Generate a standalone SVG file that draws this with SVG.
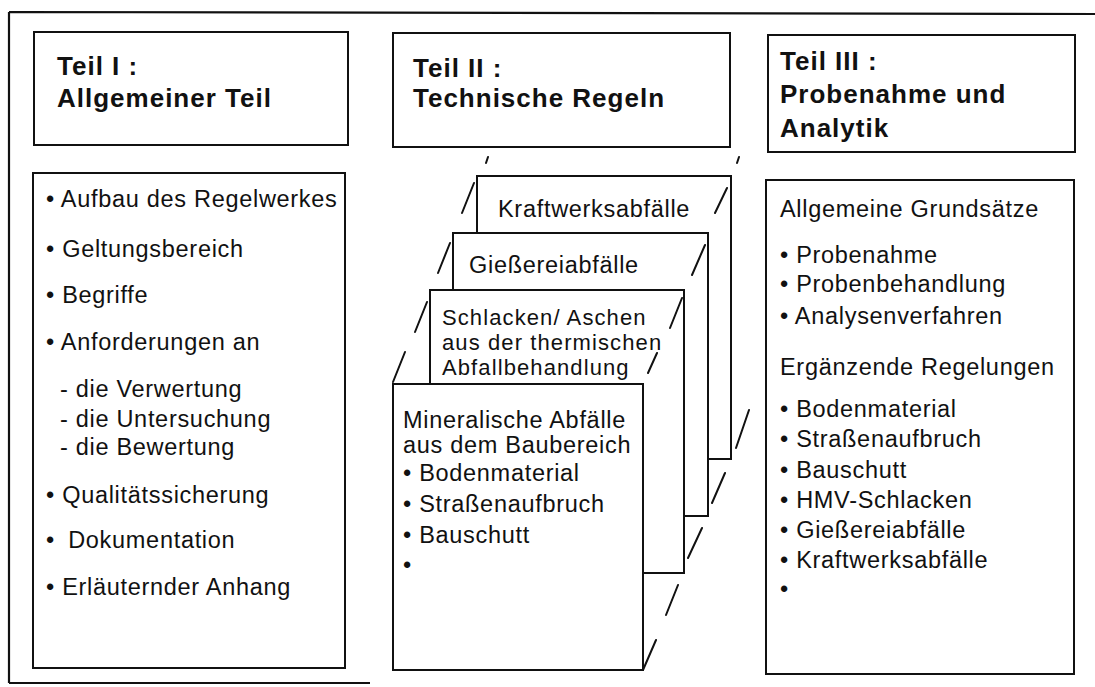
<svg xmlns="http://www.w3.org/2000/svg" width="1095" height="687" viewBox="0 0 1095 687">
<style>
.box{fill:#fff;stroke:#111;stroke-width:2}
.frame{fill:none;stroke:#111;stroke-width:2.2}
.sl{stroke:#111;stroke-width:2;fill:none;stroke-linecap:round}
.t{font-family:"Liberation Sans",Arial,sans-serif;font-size:26px;font-weight:bold;letter-spacing:1px;fill:#111}
.b{font-family:"Liberation Sans",Arial,sans-serif;font-size:23.5px;letter-spacing:0.7px;fill:#111}
.s{font-family:"Liberation Sans",Arial,sans-serif;font-size:22px;letter-spacing:1.1px;fill:#111}
</style>
<rect width="1095" height="687" fill="#fff"/>
<g id="frame">
<path class="frame" d="M9,12 L1095,14 M9,12 L9,683 M9,683 L370,683"/>
</g>
<g id="teil1">
<rect class="box" x="34" y="32" width="314" height="113"/>
<text class="t" x="57" y="75">Teil I :</text>
<text class="t" x="57" y="107">Allgemeiner Teil</text>
</g>
<g id="teil2">
<rect class="box" x="393" y="33" width="337" height="114"/>
<text class="t" x="413" y="77">Teil II :</text>
<text class="t" x="413" y="107">Technische Regeln</text>
</g>
<g id="teil3">
<rect class="box" x="768" y="35" width="307" height="117"/>
<text class="t" x="780" y="70">Teil III :</text>
<text class="t" x="780" y="103">Probenahme und</text>
<text class="t" x="780" y="137">Analytik</text>
</g>
<g id="liste1">
<rect class="box" x="33" y="173" width="312" height="495"/>
<text class="b" x="46" y="207">• Aufbau des Regelwerkes</text>
<text class="b" x="46" y="257">• Geltungsbereich</text>
<text class="b" x="46" y="303">• Begriffe</text>
<text class="b" x="46" y="350">• Anforderungen an</text>
<text class="b" x="60" y="397">- die Verwertung</text>
<text class="b" x="60" y="427">- die Untersuchung</text>
<text class="b" x="60" y="455">- die Bewertung</text>
<text class="b" x="46" y="503">• Qualitätssicherung</text>
<text class="b" x="46" y="548">• <tspan dx="6">Dokumentation</tspan></text>
<text class="b" x="46" y="595">• Erläuternder Anhang</text>
</g>
<g id="karte-kraftwerk">
<rect class="box" x="477" y="176" width="254" height="283"/>
<text class="b" x="498" y="217">Kraftwerksabfälle</text>
</g>
<g id="karte-giesserei">
<rect class="box" x="453" y="233" width="255" height="283"/>
<text class="b" x="469" y="273">Gießereiabfälle</text>
</g>
<g id="karte-schlacken">
<rect class="box" x="430" y="290" width="254" height="283"/>
<text class="s" x="442" y="325">Schlacken/ Aschen</text>
<text class="s" x="442" y="350">aus der thermischen</text>
<text class="s" x="442" y="375">Abfallbehandlung</text>
</g>
<g id="karte-mineralisch">
<rect class="box" x="393" y="384" width="250" height="286"/>
<text class="b" x="403" y="428">Mineralische Abfälle</text>
<text class="b" x="403" y="453">aus dem Baubereich</text>
<text class="b" x="403" y="481">• Bodenmaterial</text>
<text class="b" x="403" y="512">• Straßenaufbruch</text>
<text class="b" x="403" y="543">• Bauschutt</text>
<text class="b" x="403" y="573">•</text>
</g>
<g id="liste3">
<rect class="box" x="766" y="180" width="308" height="494"/>
<text class="b" x="780" y="217">Allgemeine Grundsätze</text>
<text class="b" x="780" y="263">• Probenahme</text>
<text class="b" x="780" y="292">• Probenbehandlung</text>
<text class="b" x="780" y="324">• Analysenverfahren</text>
<text class="b" x="780" y="375">Ergänzende Regelungen</text>
<text class="b" x="780" y="417">• Bodenmaterial</text>
<text class="b" x="780" y="447">• Straßenaufbruch</text>
<text class="b" x="780" y="478">• Bauschutt</text>
<text class="b" x="780" y="508">• HMV-Schlacken</text>
<text class="b" x="780" y="538">• Gießereiabfälle</text>
<text class="b" x="780" y="568">• Kraftwerksabfälle</text>
<text class="b" x="780" y="597">•</text>
</g>
<g id="connectors">
<path class="sl" d="M486,163 L488,157 M737,163 L739,157"/>
<path class="sl" d="M462,213 L474,183 M715,213 L727,188"/>
<path class="sl" d="M438,273 L450,243 M692,275 L705,245"/>
<path class="sl" d="M415,332 L427,302 M670,328 L682,298 M648,373 L657,353"/>
<path class="sl" d="M393,382 L405,352"/>
<path class="sl" d="M749,410 L736,448 M725,473 L712,503 M702,528 L688,558 M678,585 L666,615 M656,640 L643,670"/>
</g>
</svg>
